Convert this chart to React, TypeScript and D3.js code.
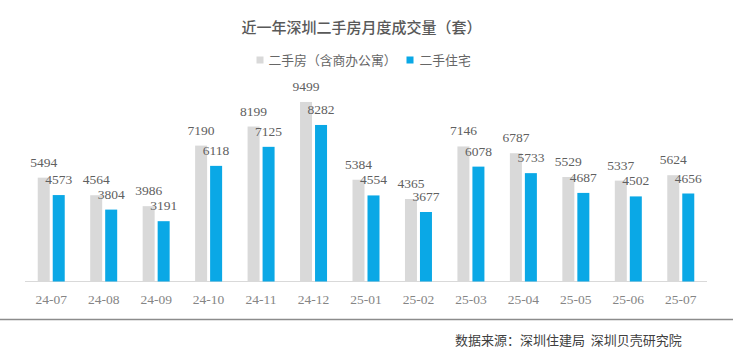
import React from "react";
import * as d3 from "d3";

const months = ["24-07","24-08","24-09","24-10","24-11","24-12","25-01","25-02","25-03","25-04","25-05","25-06","25-07"];
const totalValues = [5494,4564,3986,7190,8199,9499,5384,4365,7146,6787,5529,5337,5624];
const residentialValues = [4573,3804,3191,6118,7125,8282,4554,3677,6078,5733,4687,4502,4656];
const seriesNames = ["二手房（含商办公寓）", "二手住宅"];
const title = "近一年深圳二手房月度成交量（套）";
const source = "数据来源：深圳住建局\u00a0\u00a0深圳贝壳研究院";

const W = 740, H = 356;
const GRAY = "#d9d9d9";
const BLUE = "#0aa8e6";
const serif = "'Liberation Serif', 'DejaVu Serif', serif";
const cjk = "'Noto Sans CJK SC', 'Noto Sans', sans-serif";

export default function App() {
  const x = d3.scaleBand<string>().domain(months).range([25, 707]);
  const y = d3.scaleLinear().domain([0, 10000]).range([281.5, 92.5]);
  const bw = 12;
  const gap = 1.5;
  return (
    <svg width={W} height={H} style={{ position: "absolute", left: 0, top: 0, background: "#fff" }}>
      <text x={361.5} y={33} textAnchor="middle" fontFamily={cjk} fontSize={15} fontWeight={500} fill="#595959">{title}</text>
      <g fontFamily={cjk} fontSize={12.8} fill="#666">
        <rect x={256.5} y={56.5} width={7} height={7} fill={GRAY} />
        <text x={268.5} y={65}>{seriesNames[0]}</text>
        <rect x={406.5} y={56.5} width={7} height={7} fill={BLUE} />
        <text x={419.5} y={65}>{seriesNames[1]}</text>
      </g>
      <line x1={25} x2={707} y1={281.5} y2={281.5} stroke="#d9d9d9" strokeWidth={1} />
      {months.map((m, i) => {
        const c = (x(m) as number) + x.bandwidth() / 2;
        const gx = c - gap - bw;
        const bx = c + gap;
        const gv = totalValues[i];
        const bv = residentialValues[i];
        return (
          <g key={m}>
            <rect x={gx} y={y(gv)} width={bw} height={y(0) - y(gv)} fill={GRAY} />
            <rect x={bx} y={y(bv)} width={bw} height={y(0) - y(bv)} fill={BLUE} />
            <text x={gx + bw / 2} y={y(gv) - 11} textAnchor="middle" fontFamily={serif} fontSize={13.5} fill="#606060">{gv}</text>
            <text x={bx + bw / 2} y={y(bv) - 11} textAnchor="middle" fontFamily={serif} fontSize={13.5} fill="#606060">{bv}</text>
            <text x={c} y={304} textAnchor="middle" fontFamily={serif} fontSize={13.5} fill="#858585">{m}</text>
          </g>
        );
      })}
      <line x1={0} x2={733} y1={319.5} y2={319.5} stroke="#8c8c8c" strokeWidth={1.5} />
      <text x={455} y={345} fontFamily={cjk} fontSize={13} fill="#404040">{source}</text>
    </svg>
  );
}
